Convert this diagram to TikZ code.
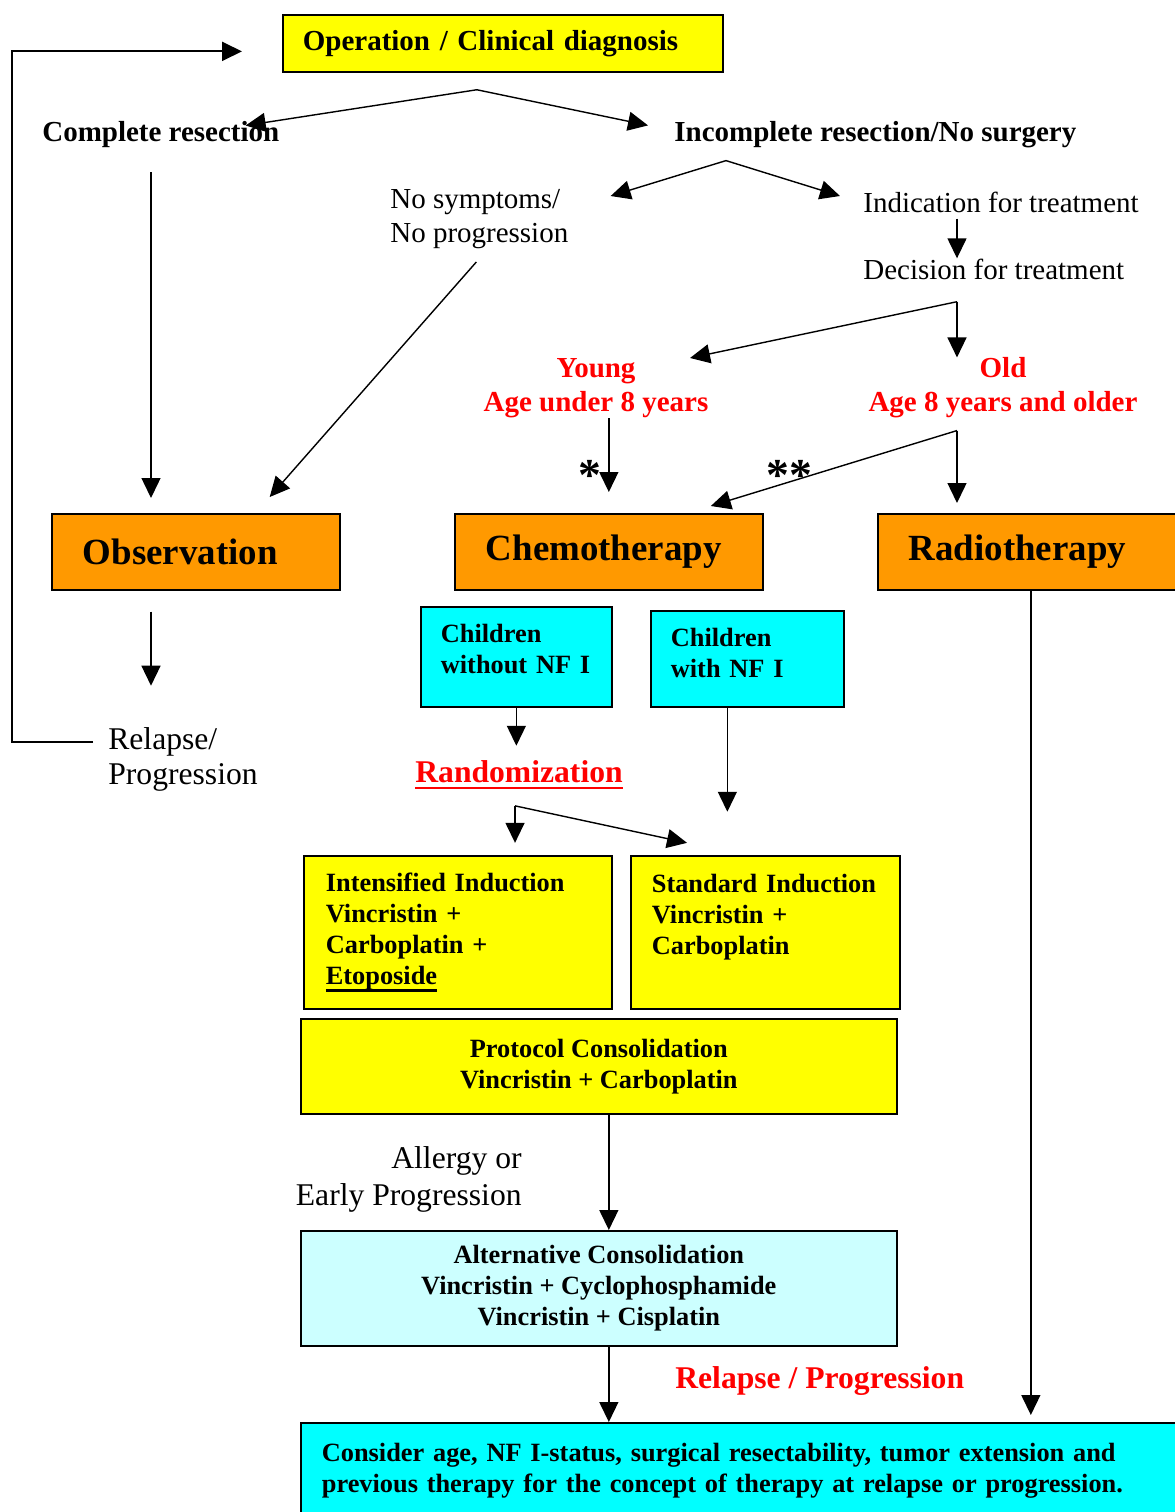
\documentclass[tikz,border=0pt]{standalone}
\usepackage{fontspec}
\setmainfont{Liberation Serif}
\usetikzlibrary{arrows.meta,calc}
\definecolor{boxyellow}{RGB}{255,255,0}
\definecolor{boxorange}{RGB}{255,153,0}
\definecolor{boxcyan}{RGB}{0,255,255}
\definecolor{boxpale}{RGB}{204,255,255}
\newcommand{\thickul}[1]{\leavevmode\setbox0\hbox{#1}\rlap{\rule[-4pt]{\wd0}{1.5pt}}\box0}
\tikzset{
  arr/.style={-{Triangle[length=0.4cm,width=0.38cm]},line width=0.8pt},
  cbox/.style={draw,line width=1pt,anchor=north west,align=left,inner ysep=0pt,font=\fontsize{15}{17.6}\selectfont\bfseries},
  bigbox/.style={cbox,fill=boxorange,minimum height=1.52cm,inner xsep=0.62cm,font=\fontsize{21}{24}\selectfont\bfseries},
  hdtext/.style={font=\fontsize{16.5}{19.3}\selectfont\bfseries,inner sep=0pt,anchor=west},
  rmtext/.style={font=\fontsize{16.5}{19.3}\selectfont,inner sep=0pt,anchor=west,align=left},
  agetext/.style={hdtext,text=red,align=center,anchor=center},
  astx/.style={font=\fontsize{26}{26}\selectfont\bfseries,inner sep=0pt},
}
\begin{document}
\begin{tikzpicture}[x=0.02cm,y=-0.02cm]
\useasboundingbox (0,0) rectangle (1175,1512);
\clip (0,0) rectangle (1175,1512);

\node[cbox,fill=boxyellow,font=\fontsize{16.5}{19.3}\selectfont\bfseries,inner xsep=0.4cm,text width=8cm,minimum height=1.14cm] (top) at (282,14) {Operation / Clinical diagnosis};
\node[hdtext] (cres) at (42,135) {Complete resection};
\node[hdtext] (ires) at (674,135) {Incomplete resection/No surgery};
\node[rmtext] (nosym) at (390,219) {No symptoms/\\No progression};
\node[rmtext] (indic) at (863,202) {Indication for treatment};
\node[rmtext] (decis) at (863,269) {Decision for treatment};
\node[agetext] (young) at (596,388) {Young\\Age under 8 years};
\node[agetext] (old) at (1003,388) {Old\\Age 8 years and older};
\node[bigbox,text width=4.52cm] (obs) at (51,513) {Observation};
\node[bigbox,text width=4.92cm] (chemo) at (454,513) {Chemotherapy};
\node[bigbox,text width=4.88cm] (radio) at (877,513) {Radiotherapy};
\node[astx] (st1) at (590,475) {*};
\node[astx] (st2) at (789,475) {**};
\node[rmtext,font=\fontsize{18}{20}\selectfont] (relapse) at (108,759) {Relapse/\\Progression};
\node[cbox,fill=boxcyan,inner xsep=0.4cm,text width=3.02cm,minimum height=2cm,text depth=27pt] (childa) at (420,606) {Children\\without NF I};
\node[cbox,fill=boxcyan,inner xsep=0.4cm,text width=3.06cm,minimum height=1.92cm,text depth=24pt] (childb) at (650,610) {Children\\with NF I};
\node[hdtext,font=\fontsize{18}{20}\selectfont\bfseries,text=red] (random) at (415,775) {\thickul{Randomization}};
\node[cbox,fill=boxyellow,inner xsep=0.44cm,text width=5.28cm,minimum height=3.06cm] (intens) at (303,855) {Intensified Induction\\Vincristin +\\Carboplatin +\\\thickul{Etoposide}};
\node[cbox,fill=boxyellow,inner xsep=0.42cm,text width=4.54cm,minimum height=3.06cm,text depth=56pt] (stand) at (630,855) {Standard Induction\\Vincristin +\\Carboplatin};
\node[cbox,fill=boxyellow,align=center,minimum width=11.92cm,minimum height=1.9cm] (prot) at (300,1018) {Protocol Consolidation\\Vincristin + Carboplatin};
\node[rmtext,font=\fontsize{18}{21}\selectfont,align=right,anchor=east] (allergy) at (522,1179) {Allergy or\\Early Progression};
\node[cbox,fill=boxpale,align=center,minimum width=11.92cm,minimum height=2.3cm] (alt) at (300,1230) {Alternative Consolidation\\Vincristin + Cyclophosphamide\\Vincristin + Cisplatin};
\node[hdtext,font=\fontsize{18}{20}\selectfont\bfseries,text=red] (relprog) at (675,1381) {Relapse / Progression};
\node[cbox,fill=boxcyan,inner xsep=0.42cm,text width=16.96cm,minimum height=1.9cm] (final) at (300,1422) {Consider age, NF I-status, surgical resectability, tumor extension and\\previous therapy for the concept of therapy at relapse or progression.};

\coordinate (obsx) at (151,0);
\coordinate (oldx) at (957,0);
\coordinate (s1) at ($(top.south)+(-26,17)$);
\coordinate (s2) at ($(ires.south west)+(52,12)$);
\coordinate (s3) at ($(decis.south -| oldx)+(0,22)$);
\coordinate (s4) at ($(old.south -| oldx)+(0,12)$);
\coordinate (s5) at ($(random.south)+(-4,16)$);

\draw[arr,line width=1.1pt] ($(relapse.west)+(-15,-17)$) -- ++(-81,0) |- ($(top.west)+(-40,8)$);
\draw[arr] (s1) -- ($(cres.north east)+(-34,4)$);
\draw[arr] (s1) -- ($(ires.north west)+(-26,4)$);
\draw[arr] (s2) -- ($(nosym.north east)+(42,7)$);
\draw[arr] (s2) -- ($(indic.west)+(-23,-6)$);
\draw[arr,shorten <=0.12cm] (indic.south -| oldx) -- (decis.north -| oldx);
\draw[arr] (s3) -- ($(young.north)+(94,0)$);
\draw[arr] (s3) -- (old.north -| oldx);
\draw[arr,shorten >=0.42cm] (young.south -| chemo) -- (chemo.north);
\draw[arr] (s4) -- ($(chemo.north)+(102,-7)$);
\draw[arr,shorten >=0.2cm] (s4) -- (radio.north -| oldx);
\draw[arr,shorten <=0.48cm,shorten >=0.3cm] (cres.south -| obsx) -- (obs.north -| obsx);
\draw[arr] ($(nosym.south)+(-3,13)$) -- ($(obs.north east)+(-71,-16)$);
\draw[arr,shorten <=0.42cm,shorten >=0.82cm] (obs.south -| obsx) -- (relapse.north -| obsx);
\draw[arr] (childa.south) -- ++(0,38);
\draw[arr] ($(childb.south)+(-20,0)$) -- ++(0,104);
\draw[arr] (s5) -- ++(0,37);
\draw[arr] (s5) -- ++(172,37);
\draw[arr] (prot.south -| chemo) -- (alt.north -| chemo);
\draw[arr] (alt.south -| chemo) -- (final.north -| chemo);
\draw[arr,shorten >=0.14cm] (radio.south) -- (final.north -| radio);
\end{tikzpicture}
\end{document}
